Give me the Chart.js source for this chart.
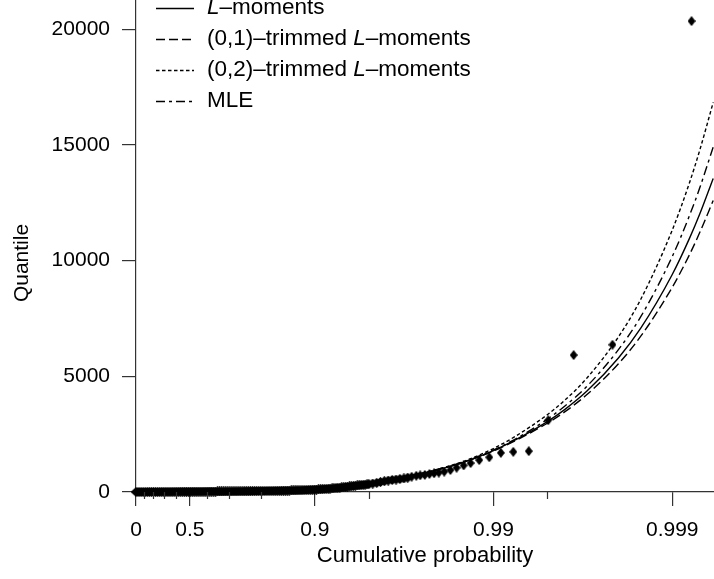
<!DOCTYPE html>
<html>
<head>
<meta charset="utf-8">
<script src="https://cdn.jsdelivr.net/npm/chart.js"></script>
<style>html,body{margin:0;padding:0;background:#fff}</style>
</head>
<body>
<canvas id="quantileChart" width="714" height="579"></canvas>
<script>
// x axis is in cumulative probability, drawn on an exponential (-log(1-p)) scale
var probTicks = [0, 0.5, 0.9, 0.99, 0.999];
var probMinor = [0.1, 0.2, 0.3, 0.4, 0.6, 0.7, 0.8, 0.95, 0.995];
var quantileTicks = [0, 5000, 10000, 15000, 20000];

// observed sample (plotting position, value)
var sampleProb = [
	0.0008,0.0247,0.0488,0.0723,0.0952,0.1175,0.1393,0.1605,0.1813,0.2015,
	0.2212,0.2404,0.2592,0.2775,0.2953,0.3127,0.3297,0.3462,0.3624,0.3781,
	0.3935,0.4085,0.4231,0.4373,0.4512,0.4647,0.4780,0.4908,0.5034,0.5157,
	0.5276,0.5393,0.5507,0.5618,0.5726,0.5831,0.5934,0.6035,0.6133,0.6228,
	0.6321,0.6412,0.6501,0.6587,0.6671,0.6753,0.6834,0.6912,0.6988,0.7062,
	0.7135,0.7206,0.7275,0.7342,0.7408,0.7472,0.7534,0.7595,0.7654,0.7712,
	0.7769,0.7824,0.7878,0.7930,0.7981,0.8031,0.8080,0.8127,0.8173,0.8218,
	0.8262,0.8305,0.8347,0.8388,0.8428,0.8466,0.8504,0.8541,0.8577,0.8612,
	0.8647,0.8680,0.8713,0.8744,0.8775,0.8806,0.8835,0.8864,0.8892,0.8919,
	0.8946,0.8972,0.8997,0.9022,0.9046,0.9070,0.9093,0.9115,0.9137,0.9159,
	0.9179,0.9200,0.9219,0.9239,0.9257,0.9276,0.9293,0.9311,0.9328,0.9344,
	0.9361,0.9376,0.9392,0.9407,0.9422,0.9436,0.9450,0.9464,0.9477,0.9490,
	0.9502,0.9526,0.9550,0.9571,0.9592,0.9612,0.9631,0.9649,0.9666,0.9683,0.9698,0.9713,
	0.97296,0.9743,0.97576,0.97717,0.9785,0.97976,0.98113,0.98258,0.98392,0.98531,
	0.98657,0.98798,0.98944,0.99090,0.99225,0.99365,0.99506,0.99644,0.99784,0.99922
];
var sampleQuantile = [
	0,0,1,1,2,2,3,3,4,4,
	5,5,5,6,6,7,7,8,8,9,
	9,10,10,11,11,12,12,13,13,14,
	14,15,15,16,16,17,18,19,19,20,
	20,21,22,23,23,24,25,26,26,27,
	28,29,29,30,31,32,33,34,35,36,
	37,38,39,40,41,42,43,45,46,47,
	48,50,51,53,54,56,57,59,61,63,
	65,68,70,73,75,78,81,85,88,92,
	95,99,103,108,112,117,122,128,134,141,
	148,155,163,172,180,189,198,208,218,229,
	240,251,262,272,282,291,300,309,318,329,
	340,365,395,430,465,495,520,540,560,585,620,660,
	700,720,740,780,810,840,880,950,1050,1150,
	1250,1380,1500,1694,1737,1767,3103,5918,6366,20357
];

// fitted quantile curves
var curveProb = [0, 0.5, 0.8, 0.9, 0.95, 0.975, 0.98, 0.985, 0.99, 0.9925, 0.995, 0.996, 0.997, 0.998, 0.9985, 0.999, 0.9992, 0.9993, 0.99941];
var lMoments   = [0, 15, 60, 150, 380, 800, 985, 1260, 1790, 2260, 3042, 3560, 4362, 5795, 7083, 9403, 10975, 12040, 13558];
var trimmed01  = [0, 15, 60, 150, 380, 805, 990, 1260, 1775, 2230, 2973, 3462, 4213, 5546, 6735, 8850, 10269, 11237, 12601];
var trimmed02  = [0, 15, 60, 150, 385, 820, 1010, 1300, 1880, 2420, 3341, 3961, 4928, 6707, 8333, 11322, 13382, 14803, 16845];
var mleFit     = [0, 15, 60, 150, 380, 810, 995, 1275, 1820, 2300, 3148, 3708, 4573, 6154, 7580, 10181, 11961, 13173, 14910];

var FONT = "'Liberation Sans', Arial, Helvetica, sans-serif";
var AXIS = '#333';

function toT(p) { return -Math.log(1 - p); }

class ProbabilityScale extends Chart.LinearScale {
	configure() {
		super.configure();
		this._startValue = toT(this.min);
		this._endValue = toT(this.max);
		this._valueRange = this._endValue - this._startValue;
	}
	getPixelForValue(v) {
		return this.getPixelForDecimal((toT(v) - this._startValue) / this._valueRange);
	}
	getValueForPixel(px) {
		var t = this._startValue + this.getDecimalForPixel(px) * this._valueRange;
		return 1 - Math.exp(-t);
	}
	buildTicks() {
		return probTicks.map(function(v){ return {value: v}; });
	}
}
ProbabilityScale.id = 'probability';
ProbabilityScale.defaults = {};
Chart.register(ProbabilityScale);

// filled diamond markers: a wider one where points pile up into a band
function makeDiamond(w, h) {
	var cv = document.createElement('canvas');
	cv.width = w; cv.height = h;
	var c = cv.getContext('2d');
	c.fillStyle = '#000';
	c.beginPath();
	c.moveTo(w / 2, 0); c.lineTo(w, h / 2); c.lineTo(w / 2, h); c.lineTo(0, h / 2);
	c.closePath(); c.fill();
	return cv;
}
var diamond = makeDiamond(8, 10);
var bandDiamond = makeDiamond(11, 10);

function pairs(xs, ys) {
	return xs.map(function(x, i){ return {x: x, y: ys[i]}; });
}

function curve(label, values, dash) {
	return {
		label: label,
		data: pairs(curveProb, values),
		showLine: true,
		borderColor: '#000',
		borderWidth: 1.4,
		borderDash: dash,
		pointRadius: 0,
		fill: false,
		clip: false,
		cubicInterpolationMode: 'monotone'
	};
}

var legendRows = [
	{parts: [['L', true], ['\u2013moments', false]], dash: []},
	{parts: [['(0,1)\u2013trimmed ', false], ['L', true], ['\u2013moments', false]], dash: [9, 4]},
	{parts: [['(0,2)\u2013trimmed ', false], ['L', true], ['\u2013moments', false]], dash: [3.5, 2.5]},
	{parts: [['MLE', false]], dash: [9, 4, 3, 4]}
];

var decorations = {
	id: 'decorations',
	afterDraw: function(chart) {
		var ctx = chart.ctx;
		var xs = chart.scales.x;
		ctx.save();
		// minor ticks
		ctx.strokeStyle = AXIS;
		ctx.lineWidth = 1.2;
		ctx.beginPath();
		probMinor.forEach(function(p){
			var px = Math.round(xs.getPixelForValue(p)) + 0.5;
			ctx.moveTo(px, xs.top);
			ctx.lineTo(px, xs.top + 7);
		});
		ctx.stroke();

		// y title
		ctx.fillStyle = '#000';
		ctx.font = '21px ' + FONT;
		ctx.textAlign = 'center';
		ctx.textBaseline = 'middle';
		ctx.save();
		ctx.translate(22, 263);
		ctx.rotate(-Math.PI / 2);
		ctx.fillText('Quantile', 0, 0);
		ctx.restore();

		// legend
		ctx.textAlign = 'left';
		legendRows.forEach(function(row, i){
			var y = 8 + i * 31;
			ctx.strokeStyle = '#000';
			ctx.lineWidth = 1.4;
			ctx.setLineDash(row.dash);
			ctx.beginPath();
			ctx.moveTo(156, y + 0.5);
			ctx.lineTo(194, y + 0.5);
			ctx.stroke();
			ctx.setLineDash([]);
			var x = 207;
			row.parts.forEach(function(part){
				ctx.font = (part[1] ? 'italic ' : '') + '22.5px ' + FONT;
				ctx.fillText(part[0], x, y);
				x += ctx.measureText(part[0]).width;
			});
		});
		ctx.restore();
	}
};

var tickFont = {family: FONT, size: 21};

var config = {
	type: 'scatter',
	data: {
		datasets: [
			{
				label: 'sample',
				data: pairs(sampleProb, sampleQuantile),
				pointStyle: function(c){ return c.raw && c.raw.x < 0.97 ? bandDiamond : diamond; },
				pointRadius: 4,
				clip: false
			},
			curve('L-moments', lMoments, []),
			curve('(0,1)-trimmed L-moments', trimmed01, [9, 4]),
			curve('(0,2)-trimmed L-moments', trimmed02, [3.5, 2.5]),
			curve('MLE', mleFit, [9, 4, 3, 4])
		]
	},
	options: {
		responsive: false,
		animation: false,
		events: [],
		layout: {padding: 0, autoPadding: false},
		plugins: {
			legend: {display: false},
			tooltip: {enabled: false}
		},
		scales: {
			x: {
				type: 'probability',
				position: 'bottom',
				min: 0,
				max: 0.999416,
				grid: {drawOnChartArea: false, drawTicks: true, tickLength: 14, color: AXIS, lineWidth: 1.2},
				border: {display: true, color: AXIS, width: 1.2},
				ticks: {
					autoSkip: false, maxRotation: 0, minRotation: 0, padding: 12,
					color: '#000', font: tickFont,
					callback: function(v){ return String(v); }
				},
				title: {display: true, text: 'Cumulative probability', color: '#000', font: {family: FONT, size: 22}, padding: {top: 0, bottom: 10}},
				afterFit: function(s){ s.height = 87; s.paddingLeft = 0; s.paddingRight = 0; }
			},
			y: {
				type: 'linear',
				position: 'left',
				min: 0,
				max: 21270,
				afterBuildTicks: function(s){ s.ticks = quantileTicks.map(function(v){ return {value: v}; }); },
				grid: {drawOnChartArea: false, drawTicks: true, tickLength: 14, color: AXIS, lineWidth: 1.2},
				border: {display: true, color: AXIS, width: 1.2},
				ticks: {
					padding: 12, color: '#000', font: tickFont,
					callback: function(v){ return String(v); }
				},
				afterFit: function(s){ s.width = 136; s.paddingTop = 0; s.paddingBottom = 0; }
			}
		}
	},
	plugins: [decorations]
};

var ctxQuantile = document.getElementById('quantileChart').getContext('2d');
window.quantileChart = new Chart(ctxQuantile, config);
</script>
</body>
</html>
